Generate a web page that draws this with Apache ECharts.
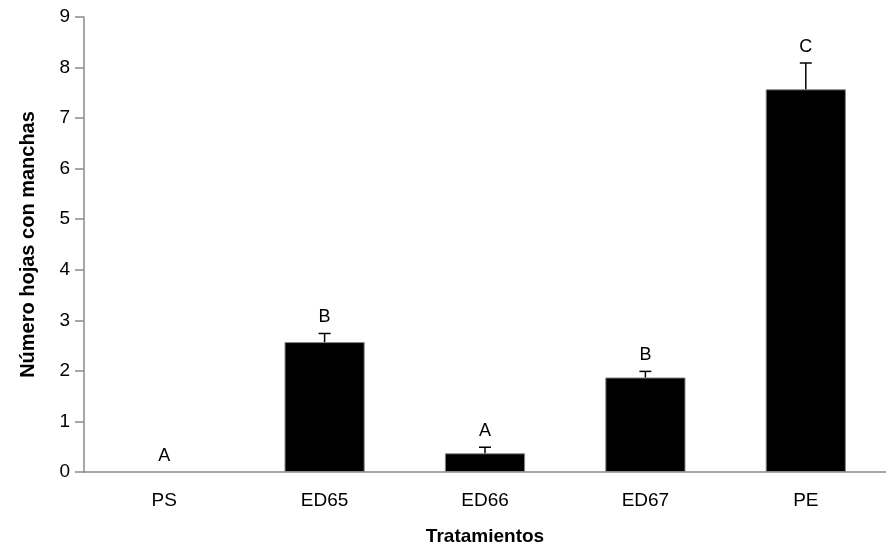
<!DOCTYPE html>
<html><head><meta charset="utf-8">
<script src="https://cdn.jsdelivr.net/npm/echarts@6/dist/echarts.min.js"></script>
<style>html,body{margin:0;padding:0;background:#fff}#c{width:886px;height:552px}</style>
</head><body><div id="c"></div>
<script>
const categories = ['PS','ED65','ED66','ED67','PE'];
const means = [0, 2.57, 0.37, 1.87, 7.57];
const errors = [0, 0.17, 0.12, 0.12, 0.52];
const letters = ['A','B','A','B','C'];
const yTicks = [0,1,2,3,4,5,6,7,8,9];

const FONT = '"Liberation Sans", Arial, sans-serif';
const AXIS = '#8a8a8a';
const chart = echarts.init(document.getElementById('c'), null, {renderer:'canvas'});
chart.setOption({
  animation:false,
  backgroundColor:'#fff',
  grid:{left:84, top:17, width:805, height:455, containLabel:false},
  xAxis:{
    type:'category', data:categories,
    name:'Tratamientos', nameLocation:'middle', nameGap:55,
    nameTextStyle:{fontFamily:FONT, fontSize:19, fontWeight:'bold', color:'#000'},
    axisLine:{lineStyle:{color:AXIS, width:1.5}},
    axisTick:{inside:true, length:6, lineStyle:{color:AXIS, width:1.5}},
    axisLabel:{fontFamily:FONT, fontSize:19, color:'#000', margin:19}
  },
  yAxis:{
    type:'value', min:0, max:9, interval:1,
    name:'Número hojas con manchas', nameLocation:'middle', nameGap:46, nameRotate:90,
    nameTextStyle:{fontFamily:FONT, fontSize:20, fontWeight:'bold', color:'#000'},
    axisLine:{show:true, lineStyle:{color:AXIS, width:1.5}},
    axisTick:{show:true, length:9, lineStyle:{color:AXIS, width:1.5}},
    axisLabel:{fontFamily:FONT, fontSize:19, color:'#000', margin:14,
      formatter:v=>yTicks.includes(v)?String(v):''},
    splitLine:{show:false}
  },
  series:[
    {type:'bar', barWidth:'50%',
     data:means.map(v=>({value:v, itemStyle:{borderWidth: v>0?1:0}})),
     itemStyle:{color:'#000', borderColor:'#888', borderWidth:1}},
    {type:'custom', data:categories.map((c,i)=>[i, means[i], errors[i]]),
     z:5,
     renderItem:function(params, api){
       const x = api.value(0), m = api.value(1), e = api.value(2);
       const p0 = api.coord([x, m]);
       const p1 = api.coord([x, m+e]);
       const children = [];
       if (e > 0) {
         children.push({type:'line', shape:{x1:p0[0], y1:p0[1], x2:p1[0], y2:p1[1]}, style:{stroke:'#000', lineWidth:1.5}});
         children.push({type:'line', shape:{x1:p1[0]-6, y1:p1[1], x2:p1[0]+6, y2:p1[1]}, style:{stroke:'#000', lineWidth:1.5}});
       }
       children.push({type:'text', style:{text:letters[params.dataIndex], x:p1[0], y:p1[1]-16,
         align:'center', verticalAlign:'middle', font:'18px '+FONT, fill:'#000'}});
       return {type:'group', children:children};
     }}
  ]
});
</script></body></html>
